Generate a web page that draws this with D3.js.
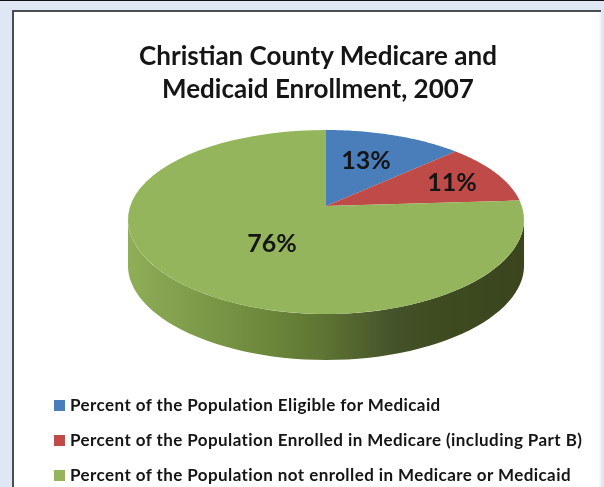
<!DOCTYPE html>
<html>
<head>
<meta charset="utf-8">
<script src="https://cdn.jsdelivr.net/npm/d3@7"></script>
<style>
  html, body { margin: 0; padding: 0; background: #dfe7f5; overflow: hidden; }
  text { font-family: Lato, "Open Sans", sans-serif; fill: #151515; }
  svg { filter: blur(0.4px); }
</style>
</head>
<body>
<svg id="chart"></svg>
<script>
const categories = [
  "Percent of the Population Eligible for Medicaid",
  "Percent of the Population Enrolled in Medicare (including Part B)",
  "Percent of the Population not enrolled in Medicare or Medicaid"
];
const values = [13, 11, 76];
const colors = ["#4a7ebb", "#be4b48", "#95b55c"];
const titleLines = ["Christian County Medicare and", "Medicaid Enrollment, 2007"];

const svgWidth = 604;
const svgHeight = 487;

const svg = d3.select("#chart")
  .attr("width", svgWidth)
  .attr("height", svgHeight)
  .style("display", "block");

// page background and chart frame
svg.append("rect").attr("width", svgWidth).attr("height", 1).attr("fill", "#111");
svg.append("rect")
  .attr("x", 13).attr("y", 11)
  .attr("width", 587).attr("height", 480)
  .attr("fill", "#fff").attr("stroke", "#4a4e50").attr("stroke-width", 2);
svg.append("rect").attr("x", 599).attr("y", 12).attr("width", 2).attr("height", 475).attr("fill", "#f4f6fa");

svg.selectAll(".title")
  .data(titleLines)
  .enter()
  .append("text")
  .attr("class", "title")
  .attr("x", 318)
  .attr("y", (d, i) => 65 + i * 33)
  .attr("text-anchor", "middle")
  .attr("font-size", 26)
  .attr("font-weight", 700)
  .text(d => d);

// tilted pie: a circle seen in perspective, the far side is smaller
const cx = 326, cy = 206;
const radiusX = 195.8, radiusY = 89.2, tiltX = 0.15, tiltY = 0.174, depth = 46;
const project = a => {
  const c = Math.cos(a);
  return [cx + radiusX * Math.sin(a) / (1 + tiltX * c), cy - radiusY * c / (1 + tiltY * c)];
};

const arcs = d3.pie().sort(null)(values);
const steps = (a0, a1) => d3.range(0, 61).map(i => a0 + (a1 - a0) * i / 60);

// side wall
const defs = svg.append("defs");
const grad = defs.append("linearGradient").attr("id", "side");
[[0, "#8fae57"], [0.2, "#7b9848"], [0.37, "#6b8539"], [0.5, "#5d7333"], [0.67, "#45532a"], [0.8, "#3e4a20"], [1, "#3a451d"]]
  .forEach(s => grad.append("stop").attr("offset", s[0]).attr("stop-color", s[1]));

const side = d3.area()
  .x(a => project(a)[0])
  .y0(a => project(a)[1])
  .y1(a => project(a)[1] + depth);

svg.append("path")
  .attr("d", side(steps(Math.PI * 0.55, Math.PI * 1.45)))
  .attr("fill", "url(#side)");

// top face
const slice = d3.line().x(p => p[0]).y(p => p[1]);
svg.selectAll(".slice")
  .data(arcs)
  .enter()
  .append("path")
  .attr("class", "slice")
  .attr("d", d => slice([[cx, cy], ...steps(d.startAngle, d.endAngle).map(project)]) + "Z")
  .attr("fill", (d, i) => colors[i]);

// data labels
const labelPos = [[366, 160], [452, 182], [272, 243]];
svg.selectAll(".pct")
  .data(values)
  .enter()
  .append("text")
  .attr("class", "pct")
  .attr("x", (d, i) => labelPos[i][0])
  .attr("y", (d, i) => labelPos[i][1] + 8.5)
  .attr("text-anchor", "middle")
  .attr("font-size", 25)
  .attr("font-weight", 700)
  .text(d => d + "%");

// legend
const legend = svg.selectAll(".legend")
  .data(categories)
  .enter()
  .append("g")
  .attr("class", "legend")
  .attr("transform", (d, i) => `translate(54, ${405 + i * 35})`);

legend.append("rect")
  .attr("y", -5).attr("width", 11).attr("height", 11)
  .attr("fill", (d, i) => colors[i]);

legend.append("text")
  .attr("x", 16)
  .attr("y", 5.5)
  .attr("font-size", 17)
  .attr("font-weight", 700)
  .attr("letter-spacing", 0.42)
  .text(d => d);
</script>
</body>
</html>
